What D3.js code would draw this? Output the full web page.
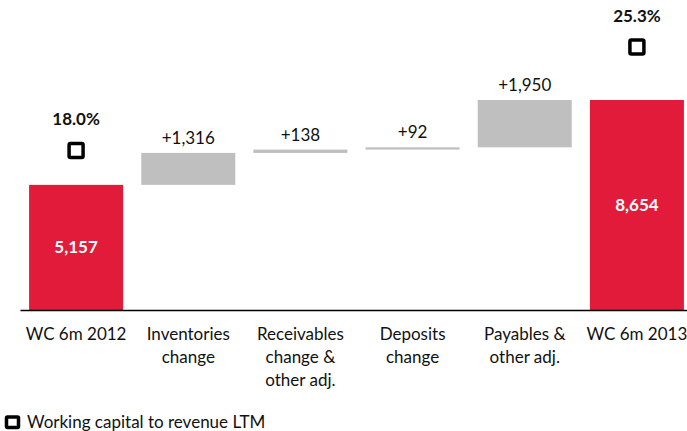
<!DOCTYPE html>
<html>
<head>
<meta charset="utf-8">
<script src="https://cdn.jsdelivr.net/npm/d3@7"></script>
<style>
	body { margin: 0; background: #fff; }
	text { font-family: Lato, "Noto Sans", sans-serif; }
</style>
</head>
<body>
<div id="chart"></div>
<script>
// waterfall data
let categories = ["WC 6m 2012", "Inventories change", "Receivables change & other adj.", "Deposits change", "Payables & other adj.", "WC 6m 2013"];
let tickLines = [["WC 6m 2012"], ["Inventories", "change"], ["Receivables", "change &", "other adj."], ["Deposits", "change"], ["Payables &", "other adj."], ["WC 6m 2013"]];
let values = [5157, 1316, 138, 92, 1950, 8654];
let kinds = ["total", "delta", "delta", "delta", "delta", "total"];
let ratios = [18.0, null, null, null, null, 25.3];
let legendLabel = "Working capital to revenue LTM";

let width = 687, height = 431;
let fontSize = 17;

let svg = d3.select("#chart").append("svg")
	.attr("width", width)
	.attr("height", height);

// build start / end for every step
let running = 0;
let rows = values.map((v, i) => {
	let r;
	if (kinds[i] == "total") {
		r = {name: categories[i], start: 0, end: v, value: v, kind: "total", ratio: ratios[i]};
		running = v;
	} else {
		r = {name: categories[i], start: running, end: running + v, value: v, kind: "delta", ratio: ratios[i]};
		running += v;
	}
	return r;
});

let xScale = d3.scaleBand()
	.domain(categories)
	.range([20, 693])
	.paddingInner(0.162)
	.paddingOuter(0.081);

let yScale = d3.scaleLinear()
	.domain([0, 8654])
	.range([310, 100]);

// secondary axis for the ratio markers (not drawn)
let y2Scale = d3.scaleLinear()
	.domain([0, 30])
	.range([405.7, -19.7]);

let fmt = d3.format(",");

svg.append("g")
	.selectAll("rect")
	.data(rows)
	.join("rect")
	.attr("x", d => xScale(d.name))
	.attr("y", d => yScale(Math.max(d.start, d.end)))
	.attr("width", xScale.bandwidth())
	.attr("height", d => Math.max(1.5, Math.abs(yScale(d.start) - yScale(d.end))))
	.attr("fill", d => d.kind == "total" ? "#e31b3b" : "#bfbfbf");

// labels: totals inside the bar, deltas above
svg.append("g")
	.selectAll("text")
	.data(rows)
	.join("text")
	.attr("x", d => xScale(d.name) + xScale.bandwidth() / 2)
	.attr("y", d => d.kind == "total" ? (yScale(d.start) + yScale(d.end)) / 2 : yScale(d.end) - 9)
	.attr("dy", d => d.kind == "total" ? "0.35em" : null)
	.attr("text-anchor", "middle")
	.attr("font-size", fontSize)
	.attr("font-weight", d => d.kind == "total" ? "bold" : "normal")
	.attr("fill", d => d.kind == "total" ? "#fff" : "#111")
	.text(d => d.kind == "total" ? fmt(d.value) : "+" + fmt(d.value));

// ratio markers
let withRatio = rows.filter(d => d.ratio != null);
let mk = 14;

svg.append("g")
	.selectAll("rect")
	.data(withRatio)
	.join("rect")
	.attr("x", d => xScale(d.name) + xScale.bandwidth() / 2 - mk / 2)
	.attr("y", d => y2Scale(d.ratio) - mk / 2)
	.attr("width", mk)
	.attr("height", mk)
	.attr("rx", 1.5)
	.attr("fill", "#fff")
	.attr("stroke", "#000")
	.attr("stroke-width", 3.5);

svg.append("g")
	.selectAll("text")
	.data(withRatio)
	.join("text")
	.attr("x", d => xScale(d.name) + xScale.bandwidth() / 2)
	.attr("y", d => y2Scale(d.ratio) - 25)
	.attr("text-anchor", "middle")
	.attr("font-size", fontSize)
	.attr("font-weight", "bold")
	.attr("fill", "#111")
	.text(d => d3.format(".1f")(d.ratio) + "%");

// category axis
let xAxis = d3.axisBottom(xScale).tickSize(0).tickSizeOuter(0);
let axisG = svg.append("g")
	.attr("transform", `translate(0,${yScale(0)})`)
	.call(xAxis);

axisG.select(".domain")
	.attr("stroke", "#000")
	.attr("stroke-width", 1.5);

axisG.selectAll(".tick text").each(function (d, i) {
	let t = d3.select(this)
		.attr("y", 0)
		.attr("dy", null)
		.attr("font-size", fontSize)
		.attr("font-family", "Lato, sans-serif")
		.attr("fill", "#111")
		.text("");
	tickLines[i].forEach((line, j) => {
		t.append("tspan")
			.attr("x", 0)
			.attr("y", 30 + j * 23)
			.text(line);
	});
});

// legend
let legend = svg.append("g").attr("transform", "translate(0,422)");
legend.append("rect")
	.attr("x", 6.5)
	.attr("y", -5)
	.attr("width", 12)
	.attr("height", 10.5)
	.attr("rx", 1)
	.attr("fill", "#fff")
	.attr("stroke", "#000")
	.attr("stroke-width", 3.5);
legend.append("text")
	.attr("x", 27)
	.attr("dy", "0.35em")
	.attr("font-size", fontSize)
	.attr("fill", "#111")
	.text(legendLabel);
</script>
</body>
</html>
